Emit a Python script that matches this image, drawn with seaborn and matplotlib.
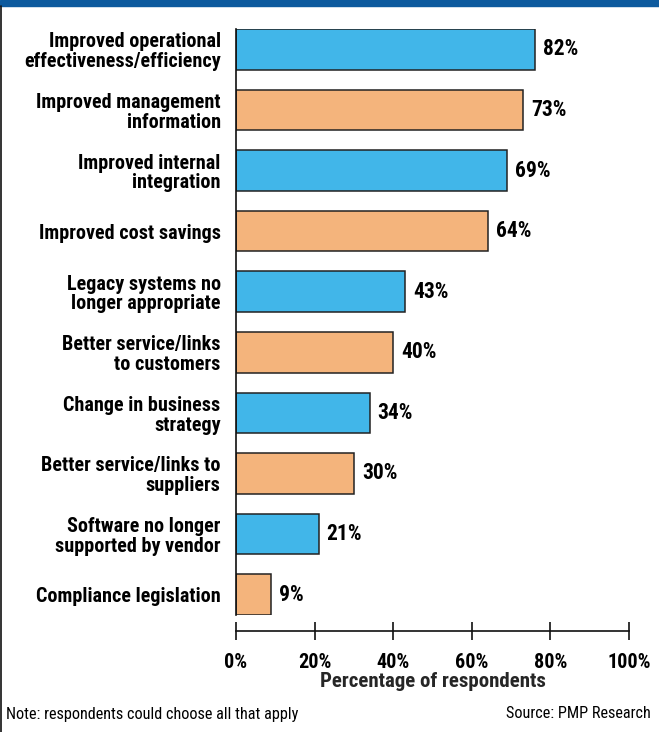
import matplotlib
matplotlib.use("Agg")
import matplotlib.pyplot as plt
import seaborn as sns
import pandas as pd

categories = [
    "Improved operational\neffectiveness/efficiency",
    "Improved management\ninformation",
    "Improved internal\nintegration",
    "Improved cost savings",
    "Legacy systems no\nlonger appropriate",
    "Better service/links\nto customers",
    "Change in business\nstrategy",
    "Better service/links to\nsuppliers",
    "Software no longer\nsupported by vendor",
    "Compliance legislation",
]
# bar lengths as drawn in the picture (first bar is drawn shorter than its label)
bar_values = [76, 73, 69, 64, 43, 40, 34, 30, 21, 9]
value_labels = ["82%", "73%", "69%", "64%", "43%", "40%", "34%", "30%", "21%", "9%"]
x_ticks = [0, 20, 40, 60, 80, 100]
x_tick_labels = ["0%", "20%", "40%", "60%", "80%", "100%"]

BLUE = "#41b6e9"
ORANGE = "#f4b47c"
BAND = "#0d5a9e"

sns.set_style("white")
plt.rcParams["font.family"] = ["Roboto Condensed", "Archivo Narrow", "DejaVu Sans"]
plt.rcParams["text.color"] = "black"
plt.rcParams["xtick.color"] = "black"
plt.rcParams["ytick.color"] = "black"

W, H = 659, 732
fig = plt.figure(figsize=(W / 100, H / 100), dpi=100)

df = pd.DataFrame({"category": categories, "value": bar_values})
colors = [BLUE if i % 2 == 0 else ORANGE for i in range(len(categories))]

# main bar axes: x 0..100 maps 236..629 px, bars from y 29 to 615 px
x0, x1 = 236, 629
ax = fig.add_axes([x0 / W, 1 - 615 / H, (x1 - x0) / W, (615 - 29) / H])
sns.barplot(data=df, y="category", x="value", hue="category", palette=colors,
            legend=False, width=0.67, edgecolor="#222222", linewidth=1.1,
            saturation=1, ax=ax)
ax.set_xlim(0, 100)
ax.set_ylim(len(categories) - 1 + 0.335, -0.335)
ax.set_xlabel("")
ax.set_ylabel("")
ax.set_xticks([])
ax.tick_params(axis="y", length=0, pad=11)
for lbl in ax.get_yticklabels():
    lbl.set_fontsize(14.5)
    lbl.set_fontweight("bold")
    lbl.set_horizontalalignment("right")
    lbl.set_multialignment("right")
    lbl.set_linespacing(1.05)
for s in ["top", "right", "bottom"]:
    ax.spines[s].set_visible(False)
ax.spines["left"].set_color("#111111")
ax.spines["left"].set_linewidth(1.2)
ax.set_facecolor("none")

for i, (v, t) in enumerate(zip(bar_values, value_labels)):
    ax.annotate(t, (v, i), xytext=(8, 0), textcoords="offset pixels",
                va="center", ha="left", fontsize=15.5, fontweight="bold")

# separate scale axis below the bars
sx = fig.add_axes([x0 / W, 1 - 631 / H, (x1 - x0) / W, 0.0001])
sx.set_xlim(0, 100)
sx.set_yticks([])
for s in ["top", "right", "left"]:
    sx.spines[s].set_visible(False)
sx.spines["bottom"].set_color("#111111")
sx.spines["bottom"].set_linewidth(1.2)
sx.set_xticks(x_ticks)
sx.set_xticklabels(x_tick_labels, fontsize=14.5, fontweight="bold")
sx.tick_params(axis="x", bottom=True, direction="inout", length=13, width=1.2,
               color="#111111", pad=9)
sx.set_xlabel("Percentage of respondents", fontsize=15, fontweight="bold", labelpad=0)
sx.set_facecolor("none")

# top band and left border
fig.patches.append(plt.Rectangle((0, 1 - 6 / H), 1, 6 / H, transform=fig.transFigure,
                                 color=BAND, zorder=0))
fig.add_artist(plt.Line2D([1 / W, 1 / W], [0, 1 - 6 / H], transform=fig.transFigure,
                          color="#111111", linewidth=1.2))

fig.text(6 / W, 1 - 714 / H, "Note: respondents could choose all that apply",
         fontsize=11.7, va="center", ha="left")
fig.text(651 / W, 1 - 714 / H, "Source: PMP Research",
         fontsize=11.7, va="center", ha="right")

fig.savefig("out.png", dpi=100)
